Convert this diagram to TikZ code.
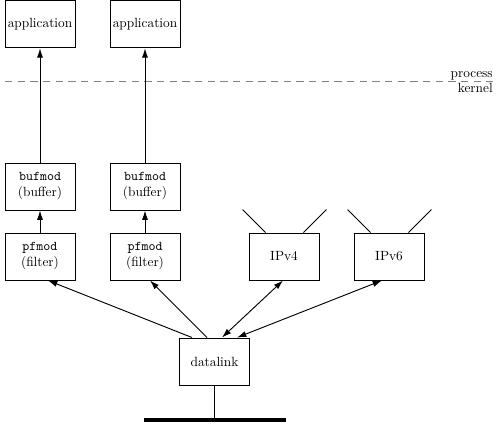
\documentclass[tikz,border=0pt]{standalone}
\usepackage{fontspec}
\usetikzlibrary{arrows.meta,calc}
\begin{document}
\begin{tikzpicture}[x=0.75pt,y=-0.75pt,
  box/.style={draw,line width=0.7pt,minimum width=52.5pt,minimum height=35.25pt,inner sep=0pt,align=center,font=\fontsize{10}{12}\selectfont},
  arr/.style={line width=0.7pt,-{Latex[length=7pt,width=4.5pt]}},
  darr/.style={line width=0.7pt,{Latex[length=7pt,width=4.5pt]}-{Latex[length=7pt,width=4.5pt]}},
  ant/.style={line width=0.6pt},
  lbl/.style={inner sep=0pt,font=\fontsize{10}{12}\selectfont}]
\useasboundingbox (0,0) rectangle (500,424);
\node[box] (app1) at (40,24.3) {application};
\node[box] (app2) at (145,24.3) {application};
\node[box] (buf1) at (40,186.5) {{\fontsize{10}{12}\selectfont\ttfamily bufmod}\\(buffer)};
\node[box] (buf2) at (145,186.5) {{\fontsize{10}{12}\selectfont\ttfamily bufmod}\\(buffer)};
\node[box] (pf1) at (40,256.5) {{\fontsize{10}{12}\selectfont\ttfamily pfmod}\\(filter)};
\node[box] (pf2) at (145,256.5) {{\fontsize{10}{12}\selectfont\ttfamily pfmod}\\(filter)};
\node[box] (ip4) at (284,256.5) {IPv4};
\node[box] (ip6) at (389,256.5) {IPv6};
\node[box] (dl) at (214.5,361.5) {datalink};
% process/kernel boundary
\coordinate (dL) at (5,81.7);
\coordinate (dR) at (493,81.7);
\draw[gray,line width=0.7pt,dash pattern=on 5.5pt off 4pt] (dL) -- (dR);
\node[lbl,anchor=south east] (proc) at ($(dR)+(0,-1)$) {process};
\node[lbl,anchor=north east] (kern) at ($(dR)+(0,1.5)$) {kernel};
% vertical arrows
\draw[arr] (buf1) -- (app1);
\draw[arr] (buf2) -- (app2);
\draw[arr] (pf1) -- (buf1);
\draw[arr] (pf2) -- (buf2);
% datalink fan-out
\draw[arr] ($(dl.north)+(-22.5,0)$) -- ($(pf1.south)+(8,0)$);
\draw[arr] ($(dl.north)+(-7.5,0)$) -- ($(pf2.south)+(5,0)$);
\draw[darr] ($(dl.north)+(7.5,0)$) -- ($(ip4.south)+(-1,0)$);
\draw[darr] ($(dl.north)+(22.5,0)$) -- ($(ip6.south)+(-7,0)$);
% antennas
\draw[ant] ($(ip4.north west)+(17,0)$) -- ++(-23,-23);
\draw[ant] ($(ip4.north east)+(-16,0)$) -- ++(23,-23);
\draw[ant] ($(ip6.north west)+(17,0)$) -- ++(-23,-23);
\draw[ant] ($(ip6.north east)+(-16,0)$) -- ++(23,-23);
% network
\coordinate (net) at (214.5,420);
\draw[line width=0.7pt] (dl.south) -- (net);
\draw[line width=3pt] ($(net)+(-70.5,0)$) -- ($(net)+(71.5,0)$);
\end{tikzpicture}
\end{document}
